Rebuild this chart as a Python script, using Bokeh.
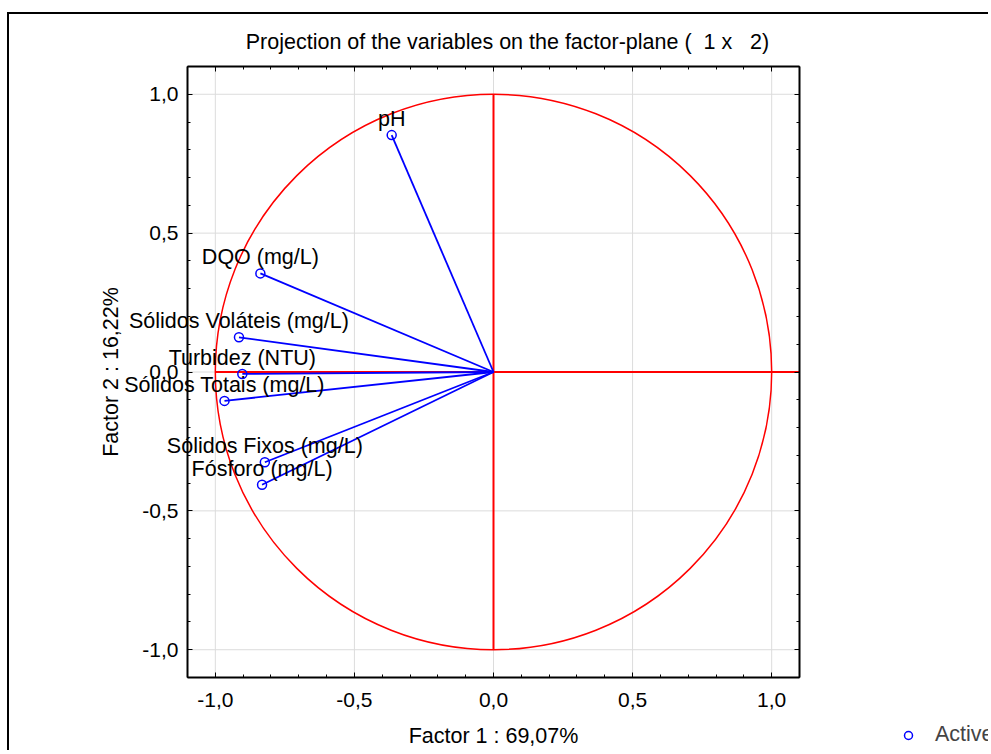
from bokeh.plotting import figure
from bokeh.models import (ColumnDataSource, LinearAxis, SingleIntervalTicker, CustomJSTickFormatter,
                          Legend, LegendItem, Range1d, Label, InlineStyleSheet, CustomLabelingPolicy)
from bokeh.core.properties import value
from bokeh.embed import file_html
from bokeh.resources import INLINE

# ---- data ----
variables = ["pH", "DQO (mg/L)", "Sólidos Voláteis (mg/L)", "Turbidez (NTU)",
             "Sólidos Totais (mg/L)", "Sólidos Fixos (mg/L)", "Fósforo (mg/L)"]
factor1 = [-0.366, -0.838, -0.915, -0.903, -0.967, -0.822, -0.832]
factor2 = [0.853, 0.355, 0.125, -0.007, -0.104, -0.325, -0.406]
grid_ticks = [-1.0, -0.5, 0.0, 0.5, 1.0]
axis_lim = 1.1
title_text = "Projection of the variables on the factor-plane (\u00a0 1 x \u00a0 2)"
xlabel = "Factor 1 : 69,07%"
ylabel = "Factor 2 : 16,22%"
legend_label = "Active"

# ---- layout (pixels) ----
W, H = 988, 750
BOX_L, BOX_R, BOX_T, BOX_B = 187, 799, 66, 677
FONT = "Liberation Sans"
FS = "21.5px"
TICK_FS = "21px"

ux = 2 * axis_lim / (BOX_R - BOX_L)
uy = 2 * axis_lim / (BOX_B - BOX_T)
x_range = Range1d(-axis_lim - BOX_L * ux, axis_lim + (W - BOX_R) * ux)
y_range = Range1d(-axis_lim - (H - BOX_B) * uy, axis_lim + BOX_T * uy)

src = ColumnDataSource(dict(x=factor1, y=factor2, zero=[0.0] * len(factor1), name=variables))

frame_css = InlineStyleSheet(css="""
:host::after {
  content: "";
  position: absolute;
  left: 7px; top: 12px; right: 0px; bottom: 0px;
  border-left: 2px solid black;
  border-top: 2px solid black;
  pointer-events: none;
}
""")

p = figure(width=W, height=H, output_backend="svg", toolbar_location=None,
           x_range=x_range, y_range=y_range,
           x_axis_location=None, y_axis_location=None,
           min_border=0, min_border_left=0, min_border_right=0,
           min_border_top=0, min_border_bottom=0,
           stylesheets=[frame_css])
p.outline_line_color = None
p.background_fill_color = "white"
p.border_fill_color = "white"
p.title.visible = False
p.xgrid.visible = False
p.ygrid.visible = False

fmt = CustomJSTickFormatter(code="return tick.toFixed(1).replace('.', ',');")

def make_axis(loc, show):
    ax = LinearAxis(ticker=SingleIntervalTicker(interval=0.5, num_minor_ticks=5), formatter=fmt,
                    bounds=(-axis_lim, axis_lim), fixed_location=loc)
    ax.major_tick_in = 5
    ax.major_tick_out = 0
    ax.minor_tick_in = 3
    ax.minor_tick_out = 0
    ax.axis_line_color = "black"
    ax.axis_line_width = 2
    ax.major_tick_line_color = "black"
    ax.minor_tick_line_color = "black"
    ax.major_label_text_font = FONT
    ax.major_label_text_font_size = TICK_FS
    ax.major_label_text_color = "black"
    ax.axis_label_text_font = FONT
    ax.axis_label_text_font_size = FS
    ax.axis_label_text_font_style = "normal"
    ax.axis_label_text_color = "black"
    if not show:
        ax.major_label_policy = CustomLabelingPolicy(
            code="for (const i of indices) { if (i < 0) { yield i } }")
    return ax

# grid lines inside the box
p.segment(x0=grid_ticks, y0=[-axis_lim] * len(grid_ticks), x1=grid_ticks, y1=[axis_lim] * len(grid_ticks),
          line_color="#dcdcdc", line_width=1)
p.segment(x0=[-axis_lim] * len(grid_ticks), y0=grid_ticks, x1=[axis_lim] * len(grid_ticks), y1=grid_ticks,
          line_color="#dcdcdc", line_width=1)

xb = make_axis(-axis_lim, True)
xb.axis_label = xlabel
xb.major_label_standoff = 15
xb.axis_label_standoff = 14
p.add_layout(xb, "below")
yl = make_axis(-axis_lim, True)
yl.axis_label = ylabel
yl.major_label_standoff = 9
yl.axis_label_standoff = 16
p.add_layout(yl, "left")
p.add_layout(make_axis(axis_lim, False), "above")
p.add_layout(make_axis(axis_lim, False), "right")

# unit circle and red axes
p.ellipse(x=0, y=0, width=2, height=2, fill_color=None, line_color="red", line_width=1.5)
p.segment(x0=[-1.0, 0.0], y0=[0.0, -1.0], x1=[axis_lim, 0.0], y1=[0.0, 1.0], line_color="red", line_width=2)

# vectors
p.segment(x0="zero", y0="zero", x1="x", y1="y", source=src, line_color="blue", line_width=1.8)
pts = p.scatter(x="x", y="y", source=src, marker="circle", size=9, fill_color=None,
                line_color="blue", line_width=1.5)
p.text(x="x", y="y", text="name", source=src, text_align="center", text_baseline="alphabetic",
       y_offset=-16, text_font=value(FONT), text_font_size=FS, text_color="black")

title = Label(x=507, y=H - 41, x_units="screen", y_units="screen", text=title_text,
              text_align="center", text_baseline="alphabetic", text_font=FONT,
              text_font_size=FS, text_color="black")
p.add_layout(title)

legend = Legend(items=[LegendItem(label=legend_label, renderers=[pts])], location=(898, H - 747))
legend.border_line_color = None
legend.background_fill_alpha = 0
legend.padding = 0
legend.margin = 0
legend.glyph_width = 20
legend.glyph_height = 20
legend.label_standoff = 17
legend.label_text_font = FONT
legend.label_text_font_size = FS
p.add_layout(legend, "center")

open("out.html", "w").write(file_html(p, INLINE))
